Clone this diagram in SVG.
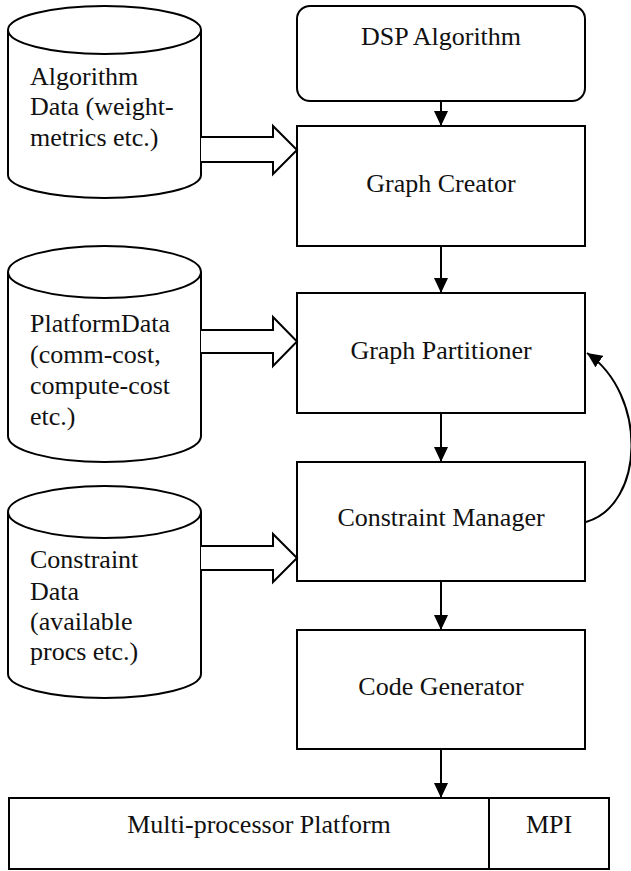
<svg xmlns="http://www.w3.org/2000/svg" width="631" height="871" viewBox="0 0 631 871">
  <style>
    .shape { fill: #ffffff; stroke: #000000; stroke-width: 2; }
    .line { fill: none; stroke: #000000; stroke-width: 2; }
    .label { font-size: 26px; fill: #111111; }
    .mid { text-anchor: middle; }
  </style>
  <defs>
    <marker id="head" markerUnits="userSpaceOnUse" markerWidth="16" markerHeight="14" viewBox="0 0 16 14" refX="15" refY="7" orient="auto">
      <path d="M0,0 L15,7 L0,14 z" fill="#000000"/>
    </marker>
  </defs>

  <rect width="631" height="871" fill="#ffffff"/>

  <!-- data stores (cylinders) -->
  <g id="algorithm-data">
    <path class="shape" d="M8,30 V175 A96.5,23 0 0 0 201,175 V30"/>
    <ellipse class="shape" cx="104.5" cy="30" rx="96.5" ry="24"/>
    <text class="label" font-family="Liberation Serif" x="30" y="85">Algorithm</text>
    <text class="label" font-family="Liberation Serif" x="30" y="115">Data (weight-</text>
    <text class="label" font-family="Liberation Serif" x="30" y="146">metrics etc.)</text>
  </g>

  <g id="platform-data">
    <path class="shape" d="M8,272 V436 A96.5,26 0 0 0 201,436 V272"/>
    <ellipse class="shape" cx="104.5" cy="272" rx="96.5" ry="26"/>
    <text class="label" font-family="Liberation Serif" x="30" y="332">PlatformData</text>
    <text class="label" font-family="Liberation Serif" x="30" y="363">(comm-cost,</text>
    <text class="label" font-family="Liberation Serif" x="30" y="394">compute-cost</text>
    <text class="label" font-family="Liberation Serif" x="30" y="425">etc.)</text>
  </g>

  <g id="constraint-data">
    <path class="shape" d="M8,512 V674 A96.5,24 0 0 0 201,674 V512"/>
    <ellipse class="shape" cx="104.5" cy="512" rx="96.5" ry="26"/>
    <text class="label" font-family="Liberation Serif" x="30" y="568">Constraint</text>
    <text class="label" font-family="Liberation Serif" x="30" y="600">Data</text>
    <text class="label" font-family="Liberation Serif" x="30" y="630">(available</text>
    <text class="label" font-family="Liberation Serif" x="30" y="660">procs etc.)</text>
  </g>

  <!-- processing stages -->
  <g id="dsp-algorithm">
    <rect class="shape" x="297" y="6" width="288" height="95" rx="13" ry="13"/>
    <text class="label mid" font-family="Liberation Serif" x="441" y="45">DSP Algorithm</text>
  </g>

  <g id="graph-creator">
    <rect class="shape" x="297" y="126" width="288" height="120"/>
    <text class="label mid" font-family="Liberation Serif" x="441" y="192">Graph Creator</text>
  </g>

  <g id="graph-partitioner">
    <rect class="shape" x="297" y="293" width="288" height="120"/>
    <text class="label mid" font-family="Liberation Serif" x="441" y="359">Graph Partitioner</text>
  </g>

  <g id="constraint-manager">
    <rect class="shape" x="297" y="462" width="288" height="119"/>
    <text class="label mid" font-family="Liberation Serif" x="441" y="526">Constraint Manager</text>
  </g>

  <g id="code-generator">
    <rect class="shape" x="297" y="630" width="288" height="119"/>
    <text class="label mid" font-family="Liberation Serif" x="441" y="695">Code Generator</text>
  </g>

  <g id="platform">
    <rect class="shape" x="9" y="798" width="600" height="71"/>
    <line class="line" x1="489" y1="798" x2="489" y2="869"/>
    <text class="label mid" font-family="Liberation Serif" x="259" y="833">Multi-processor Platform</text>
    <text class="label mid" font-family="Liberation Serif" x="549" y="833">MPI</text>
  </g>

  <!-- connectors -->
  <g id="connectors">
    <!-- block arrows from the data stores -->
    <path class="shape" d="M201,137 H273 V126 L297,150 L273,174 V162 H201"/>
    <path class="shape" d="M201,330 H273 V317 L297,341.5 L273,366 V353 H201"/>
    <path class="shape" d="M201,546 H273 V534 L297,558 L273,582 V570 H201"/>

    <!-- flow between stages -->
    <line class="line" x1="441" y1="101" x2="441" y2="126" marker-end="url(#head)"/>
    <line class="line" x1="441" y1="246" x2="441" y2="293" marker-end="url(#head)"/>
    <line class="line" x1="441" y1="413" x2="441" y2="462" marker-end="url(#head)"/>
    <line class="line" x1="441" y1="581" x2="441" y2="630" marker-end="url(#head)"/>
    <line class="line" x1="441" y1="749" x2="441" y2="798" marker-end="url(#head)"/>

    <!-- feedback loop -->
    <path class="line" d="M586,522 C645,505 648,395 587,353" marker-end="url(#head)"/>
  </g>
</svg>
